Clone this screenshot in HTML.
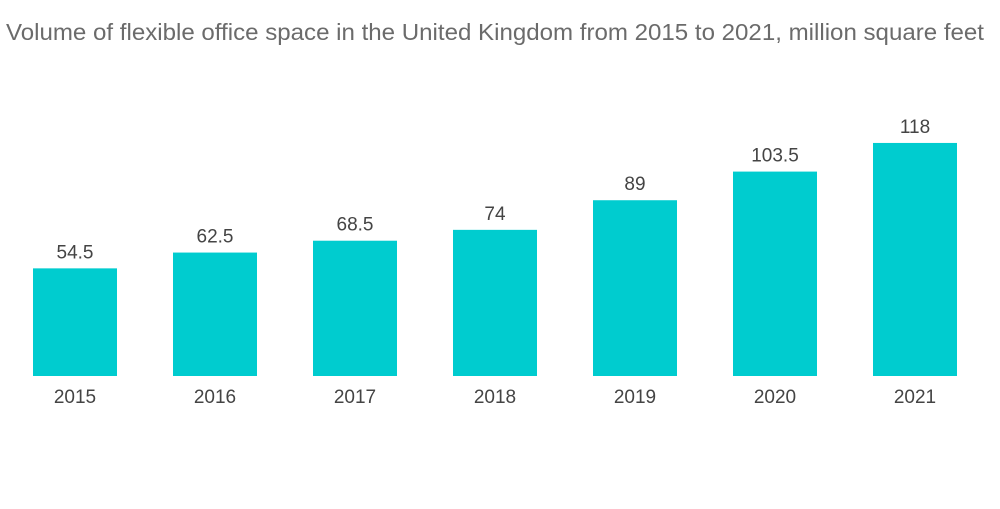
<!DOCTYPE html>
<html><head><meta charset="utf-8"><style>
body{margin:0;background:#fff;width:1000px;height:504px;overflow:hidden;font-family:"Liberation Sans",sans-serif}
</style></head><body>
<svg width="1000" height="504">
<text x="6" y="40" font-size="23" fill="#6b6b6b" textLength="978" lengthAdjust="spacingAndGlyphs">Volume of flexible office space in the United Kingdom from 2015 to 2021, million square feet</text>
<g id="bars"></g>
</svg>
<script>
const categories=["2015","2016","2017","2018","2019","2020","2021"];
const values=[54.5,62.5,68.5,74,89,103.5,118];
const labels=["54.5","62.5","68.5","74","89","103.5","118"];
const base=376, k=1.975;
const y=v=>base-v*k;
const x=i=>33+i*140;
const g=document.getElementById('bars');
const ns="http://www.w3.org/2000/svg";
categories.forEach((c,i)=>{
 const r=document.createElementNS(ns,'rect');
 r.setAttribute('x',x(i));r.setAttribute('y',y(values[i]));
 r.setAttribute('width',84);r.setAttribute('height',base-y(values[i]));
 r.setAttribute('fill','#00cccf');
 
 
 g.appendChild(r);
 const t=document.createElementNS(ns,'text');
 t.setAttribute('x',x(i)+42);t.setAttribute('y',y(values[i])-10);
 t.setAttribute('text-anchor','middle');t.setAttribute('font-size','19');t.setAttribute('fill','#444');
 t.textContent=labels[i];
 
 
 g.appendChild(t);
 const a=document.createElementNS(ns,'text');
 a.setAttribute('x',x(i)+42);a.setAttribute('y',403);
 a.setAttribute('text-anchor','middle');a.setAttribute('font-size','19');a.setAttribute('fill','#444');
 a.textContent=c;
 
 
 g.appendChild(a);
});
</script>
</body></html>
